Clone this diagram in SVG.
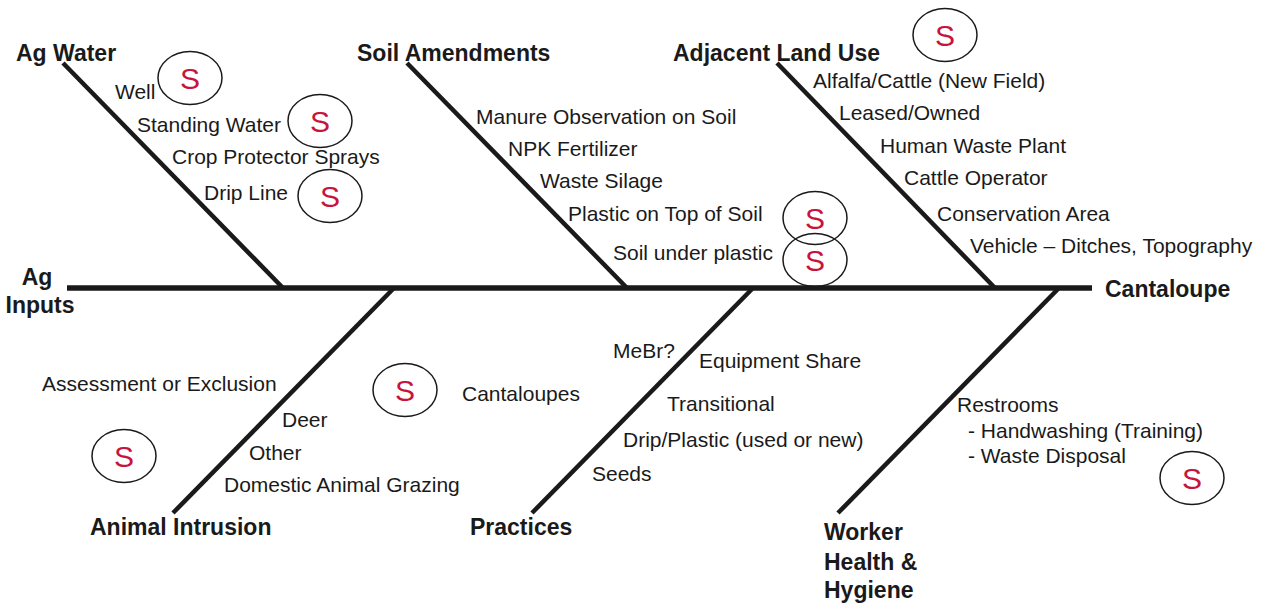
<svg xmlns="http://www.w3.org/2000/svg" width="1271" height="608" viewBox="0 0 1271 608">
  <style>
    .bone { stroke: #1a1a1a; stroke-width: 4.5; stroke-linecap: butt; fill: none; }
    .spine { stroke: #1a1a1a; stroke-width: 5.5; fill: none; }
    .cat { font-family: "Liberation Sans", Arial, sans-serif; font-weight: bold; font-size: 23px; fill: #1a1a1a; }
    .item { font-family: "Liberation Sans", Arial, sans-serif; font-size: 21px; fill: #1a1a1a; }
    .mark ellipse { fill: none; stroke: #1a1a1a; stroke-width: 1.5; }
    .mark text { font-family: "Liberation Sans", Arial, sans-serif; font-size: 30px; fill: #c8143c; text-anchor: middle; }
  </style>
  <defs>
    <g id="sMark" class="mark">
      <ellipse cx="0" cy="0" rx="32" ry="26.5"/>
      <text x="0" y="10.5">S</text>
    </g>
  </defs>
  <rect width="1271" height="608" fill="#ffffff"/>

  <!-- spine and category bones -->
  <g id="connectors">
    <line class="spine" x1="67" y1="288" x2="1092" y2="288"/>
    <line class="bone" x1="63" y1="63" x2="283" y2="288"/>
    <line class="bone" x1="407" y1="63" x2="627" y2="288"/>
    <line class="bone" x1="777" y1="63" x2="995" y2="288"/>
    <line class="bone" x1="393" y1="289" x2="173" y2="513"/>
    <line class="bone" x1="752" y1="289" x2="532" y2="513"/>
    <line class="bone" x1="1058" y1="289" x2="838" y2="513"/>
  </g>

  <!-- head and tail -->
  <g id="tail">
    <text class="cat" x="37" y="285" text-anchor="middle">Ag</text>
    <text class="cat" x="40" y="313" text-anchor="middle">Inputs</text>
  </g>
  <g id="head">
    <text class="cat" x="1105" y="297">Cantaloupe</text>
  </g>

  <g id="ag-water">
    <text class="cat" x="16" y="61">Ag Water</text>
    <text class="item" x="115" y="99">Well</text>
    <text class="item" x="137" y="132">Standing Water</text>
    <text class="item" x="172" y="164">Crop Protector Sprays</text>
    <text class="item" x="204" y="200">Drip Line</text>
    <use href="#sMark" x="190" y="78"/>
    <use href="#sMark" x="320" y="121"/>
    <use href="#sMark" x="330" y="196"/>
  </g>

  <g id="soil-amendments">
    <text class="cat" x="357" y="61">Soil Amendments</text>
    <text class="item" x="476" y="124">Manure Observation on Soil</text>
    <text class="item" x="508" y="156">NPK Fertilizer</text>
    <text class="item" x="540" y="188">Waste Silage</text>
    <text class="item" x="568" y="221">Plastic on Top of Soil</text>
    <text class="item" x="613" y="260">Soil under plastic</text>
    <use href="#sMark" x="815" y="218"/>
    <use href="#sMark" x="815" y="260"/>
  </g>

  <g id="adjacent-land-use">
    <text class="cat" x="673" y="61">Adjacent Land Use</text>
    <use href="#sMark" x="945" y="35"/>
    <text class="item" x="813" y="88">Alfalfa/Cattle (New Field)</text>
    <text class="item" x="839" y="120">Leased/Owned</text>
    <text class="item" x="880" y="153">Human Waste Plant</text>
    <text class="item" x="904" y="185">Cattle Operator</text>
    <text class="item" x="937" y="221">Conservation Area</text>
    <text class="item" x="970" y="253">Vehicle – Ditches, Topography</text>
  </g>

  <g id="animal-intrusion">
    <text class="item" x="42" y="391">Assessment or Exclusion</text>
    <text class="item" x="282" y="427">Deer</text>
    <text class="item" x="249" y="460">Other</text>
    <text class="item" x="224" y="492">Domestic Animal Grazing</text>
    <text class="item" x="462" y="401">Cantaloupes</text>
    <use href="#sMark" x="124" y="456"/>
    <use href="#sMark" x="405" y="390"/>
    <text class="cat" x="90" y="535">Animal Intrusion</text>
  </g>

  <g id="practices">
    <text class="item" x="613" y="358">MeBr?</text>
    <text class="item" x="699" y="368">Equipment Share</text>
    <text class="item" x="667" y="411">Transitional</text>
    <text class="item" x="623" y="447">Drip/Plastic (used or new)</text>
    <text class="item" x="592" y="481">Seeds</text>
    <text class="cat" x="470" y="535">Practices</text>
  </g>

  <g id="worker-health">
    <text class="item" x="957" y="412">Restrooms</text>
    <text class="item" x="968" y="438">- Handwashing (Training)</text>
    <text class="item" x="968" y="463">- Waste Disposal</text>
    <use href="#sMark" x="1192" y="478"/>
    <text class="cat" x="824" y="540">Worker</text>
    <text class="cat" x="824" y="570">Health &amp;</text>
    <text class="cat" x="824" y="598">Hygiene</text>
  </g>
</svg>
